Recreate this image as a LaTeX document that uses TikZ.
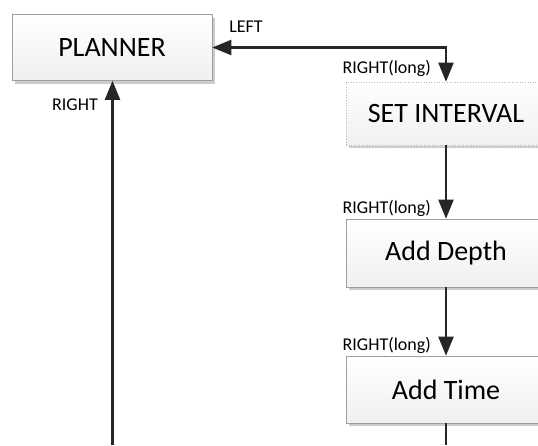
\documentclass[tikz,border=0pt]{standalone}
\usepackage{fontspec}
\setmainfont{Carlito}
\usetikzlibrary{arrows.meta,shadows}
\begin{document}
\begin{tikzpicture}[x=1pt,y=-1pt,
  box/.style={draw=gray!75, line width=0.6pt, top color=white, bottom color=gray!12,
    minimum width=200pt, inner sep=0pt, font=\fontsize{28}{32}\selectfont,
    drop shadow={shadow xshift=3pt, shadow yshift=-3pt, fill=gray!40, opacity=1}},
  arr/.style={line width=2.2pt, draw=black!85, -{Triangle[length=19pt,width=15pt]}},
  biarr/.style={line width=2.2pt, draw=black!85, {Triangle[length=19pt,width=15pt]}-{Triangle[length=19pt,width=15pt]}},
  lbl/.style={font=\fontsize{18}{20}\selectfont, inner sep=0pt}]
\useasboundingbox (0,0) rectangle (538,445);
\node[box, minimum height=66pt] (planner) at (112,47.5) {PLANNER};
\node[box, minimum height=63pt, draw=gray!55, dotted] (setint) at (446,113.5) {SET INTERVAL};
\node[box, minimum height=68pt] (depth) at (446,253) {Add Depth};
\node[box, minimum height=67pt] (time) at (446,389.5) {Add Time};
\coordinate (bl) at (112.5,445);
\coordinate (br) at (446,445);
\draw[biarr] (planner.east) -| (setint.north);
\draw[arr] (setint.south) -- (depth.north);
\draw[arr] (depth.south) -- (time.north);
\draw[arr] (bl) -- (bl |- planner.south);
\draw[line width=2.2pt, draw=black!85] (time.south) -- (br);
\node[lbl] (lleft) at (246,27) {LEFT};
\node[lbl, anchor=east] (l1) at (431,68) {RIGHT(long)};
\node[lbl, anchor=east] (l2) at (431,208) {RIGHT(long)};
\node[lbl, anchor=east] (l3) at (431,345) {RIGHT(long)};
\node[lbl, anchor=east] (lright) at (98,105) {RIGHT};
\end{tikzpicture}
\end{document}
